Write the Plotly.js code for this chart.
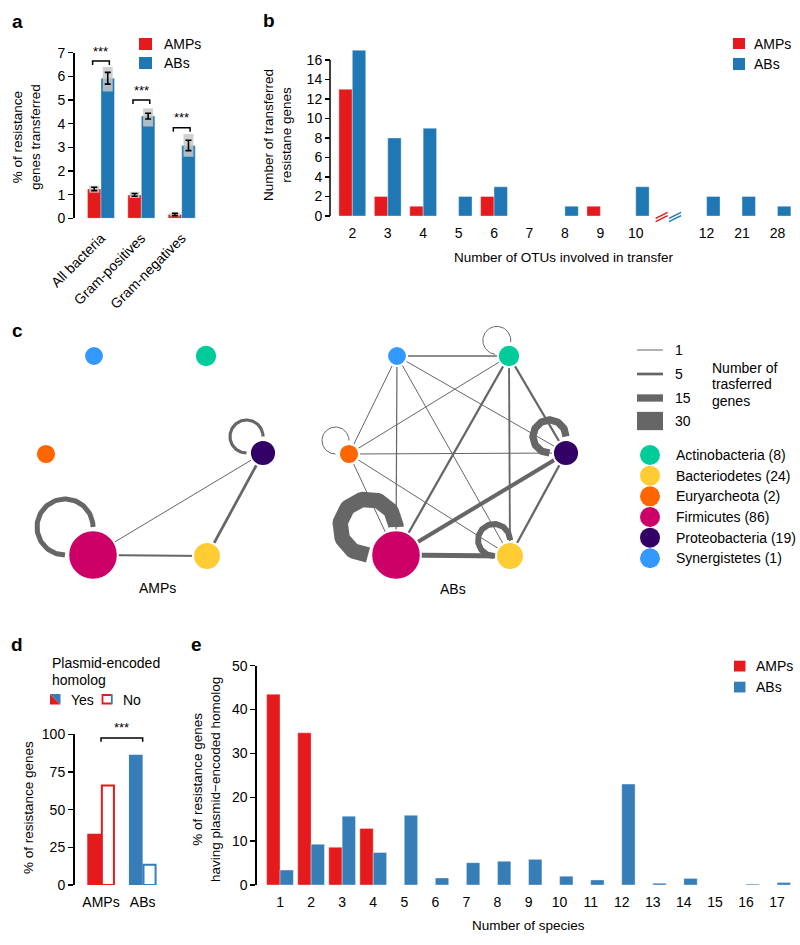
<!DOCTYPE html>
<html><head><meta charset="utf-8">
<script src="https://cdn.plot.ly/plotly-3.0.1.min.js"></script>
<style>html,body{margin:0;padding:0;background:#fff}#chart{width:800px;height:945px}</style>
</head><body><div id="chart"></div>
<script>
// ================= DATA =================
// Panel a
const aCategories = ['All bacteria', 'Gram-positives', 'Gram-negatives'];
const aAMPs = [1.24, 0.99, 0.16];
const aABs = [5.92, 4.32, 3.08];
const aAMPsErr = [0.07, 0.06, 0.05];
const aABsErr = [0.25, 0.12, 0.22];
const aAMPsLow = [1.08, 0.86, 0.08];
const aAMPsHigh = [1.38, 1.12, 0.24];
const aABsLow = [5.36, 3.88, 2.6];
const aABsHigh = [6.4, 4.64, 3.56];
const aSigY = [6.65, 5.0, 3.83];
const aSigText = ['***', '***', '***'];

// Panel b
const bCategories = ['2', '3', '4', '5', '6', '7', '8', '9', '10', '', '12', '21', '28'];
const bAMPs = [13, 2, 1, 0, 2, 0, 0, 1, 0, null, 0, 0, 0];
const bABs = [17, 8, 9, 2, 3, 0, 1, 0, 3, null, 2, 2, 1];
const bBreakIndex = 9;

// Panel c
const phyla = ['Actinobacteria', 'Bacteriodetes', 'Euryarcheota', 'Firmicutes', 'Proteobacteria', 'Synergistetes'];
const phylaCounts = [8, 24, 2, 86, 19, 1];
// edges: [source, target, number of transferred genes]
const ampEdges = [[3, 1, 3.5], [3, 4, 1], [4, 1, 5]];
const ampLoops = [[3, 10], [4, 6]];
const abEdges = [[5, 0, 2], [5, 2, 1], [5, 3, 1.5], [5, 1, 1], [5, 4, 1], [0, 2, 1], [0, 3, 4], [0, 1, 3],
                 [0, 4, 4], [2, 4, 1.5], [2, 3, 1], [2, 1, 1], [3, 4, 8], [3, 1, 10], [4, 1, 4]];
const abLoops = [[3, 26], [4, 15], [1, 12], [0, 1], [2, 1]];
const weightLegend = [1, 5, 15, 30];

// Panel d
const dGroups = ['AMPs', 'ABs'];
const dYes = [34, 86.5];
const dNo = [66, 13.5];
const dSigText = '***';

// Panel e
const eSpecies = [1, 2, 3, 4, 5, 6, 7, 8, 9, 10, 11, 12, 13, 14, 15, 16, 17];
const eAMPs = [43.5, 34.7, 8.6, 12.9, 0, 0, 0, 0, 0, 0, 0, 0, 0, 0, 0, 0, 0];
const eABs = [3.4, 9.3, 15.7, 7.4, 15.9, 1.6, 5.1, 5.4, 5.85, 2.0, 1.15, 23.0, 0.4, 1.5, 0, 0.2, 0.55];

// ================= STYLE / LAYOUT =================
const RED = '#E41A1C', BLUE = '#1F77B4', BLUE2 = '#377EB8', EDGE = '#666666';
const phylaColors = ['#00CC99', '#FFCC33', '#FF6600', '#CC0066', '#330066', '#3399FF'];
const FONT = 'Arial, "Liberation Sans", Helvetica, sans-serif';
const FS = 14, TS = 13.5;
// network node placement (pixels) and offsets of the two networks
const netPos = { x: [206, 207, 46, 93, 263, 94], y: [356, 556, 454, 555, 453, 356] };
const netOffsets = [0, 303];
const loopR = [14, 16, 13.5, 28, 16.5, 14];
const loopDir = [232, 225, 225, 225, 225, 225];
const legendPx = [1, 2.7, 7.3, 18.3];

const P = x => x / 800, Q = y => 1 - y / 945;
const traces = [], shapes = [], annotations = [];
function ann(text, x, y, size, xanchor, extra) {
  annotations.push(Object.assign({
    text, x: P(x), y: Q(y), xref: 'paper', yref: 'paper', showarrow: false,
    xanchor: xanchor || 'center', yanchor: 'middle',
    font: { family: FONT, size: size || FS, color: '#000' }
  }, extra || {}));
}
function rect(x0, y0, x1, y1, fill, line) {
  shapes.push({ type: 'rect', xref: 'paper', yref: 'paper', x0: P(x0), x1: P(x1), y0: Q(y1), y1: Q(y0),
    fillcolor: fill, line: line || { width: 0 } });
}
function widthOf(w) {
  for (let i = 0; i < weightLegend.length - 1; i++) {
    if (w <= weightLegend[i + 1]) {
      const t = (w - weightLegend[i]) / (weightLegend[i + 1] - weightLegend[i]);
      return legendPx[i] + Math.max(0, t) * (legendPx[i + 1] - legendPx[i]);
    }
  }
  return legendPx[legendPx.length - 1];
}
const tickFont = { family: FONT, size: FS, color: '#000' };
const yBase = { showgrid: false, zeroline: false, showline: true, linecolor: '#000', linewidth: 1.5,
  ticks: 'outside', ticklen: 5, tickwidth: 1.5, tickcolor: '#000', tickfont: tickFont, fixedrange: true, anchor: 'free' };
const xBase = { showgrid: false, zeroline: false, showline: false, ticks: '', tickfont: tickFont, fixedrange: true, ticklabelstandoff: 7 };
const barLine = { color: 'rgba(255,255,255,0.45)', width: 0.8 };

// ================= PANEL a =================
const aX = aCategories.map((_, i) => i);
const wA = 0.335;
traces.push({ type: 'bar', x: aX, y: aAMPs, offset: -wA, width: wA, marker: { color: RED, line: barLine }, xaxis: 'x', yaxis: 'y' });
traces.push({ type: 'bar', x: aX, y: aABs, offset: 0, width: wA, marker: { color: BLUE, line: barLine }, xaxis: 'x', yaxis: 'y' });
const cloud = (xs, v, lo, hi) => ({ type: 'scatter', mode: 'markers', x: xs, y: v, xaxis: 'x', yaxis: 'y',
  marker: { size: 1, color: 'rgba(0,0,0,0)' },
  error_y: { type: 'data', symmetric: false, array: hi.map((h, i) => h - v[i]), arrayminus: v.map((m, i) => m - lo[i]),
    color: 'rgba(200,200,200,0.85)', thickness: 10, width: 0 } });
traces.push(cloud(aX.map(i => i - wA / 2), aAMPs, aAMPsLow, aAMPsHigh));
traces.push(cloud(aX.map(i => i + wA / 2), aABs, aABsLow, aABsHigh));
const errT = (xs, v, e) => ({ type: 'scatter', mode: 'markers', x: xs, y: v, xaxis: 'x', yaxis: 'y',
  marker: { size: 1, color: 'rgba(0,0,0,0)' },
  error_y: { type: 'data', array: e, color: '#000', thickness: 1.6, width: 3 } });
traces.push(errT(aX.map(i => i - wA / 2), aAMPs, aAMPsErr));
traces.push(errT(aX.map(i => i + wA / 2), aABs, aABsErr));
aX.forEach(i => {
  const x0 = i - wA / 2 - 0.04, x1 = i + wA / 2 + 0.04, y = aSigY[i];
  shapes.push({ type: 'path', xref: 'x', yref: 'y', path: `M ${x0},${y - 0.17} L ${x0},${y} L ${x1},${y} L ${x1},${y - 0.17}`,
    line: { color: '#000', width: 1.5 } });
  annotations.push({ text: aSigText[i], x: i, y: y + 0.02, xref: 'x', yref: 'y', showarrow: false, yanchor: 'bottom',
    font: { family: FONT, size: 13, color: '#000' } });
});
rect(139, 38, 152, 50, RED); ann('AMPs', 162, 44, FS, 'left');
rect(139, 57, 152, 69, BLUE); ann('ABs', 162, 63, FS, 'left');
ann('% of resistance<br>genes transferred', 26, 137, TS, 'center', { textangle: -90 });
ann('<b>a</b>', 17, 21, 19);

// ================= PANEL b =================
const bX = bCategories.map((_, i) => i);
const wB = 0.378;
traces.push({ type: 'bar', x: bX, y: bAMPs.map(v => v || null), offset: -wB, width: wB, marker: { color: RED, line: barLine }, xaxis: 'x2', yaxis: 'y2' });
traces.push({ type: 'bar', x: bX, y: bABs.map(v => v || null), offset: 0, width: wB, marker: { color: BLUE, line: barLine }, xaxis: 'x2', yaxis: 'y2' });
shapes.push({ type: 'line', xref: 'paper', yref: 'y2', x0: P(330), x1: P(330), y0: 0, y1: 16, line: { color: '#000', width: 1.5 } });
[[-wB / 2 - 0.08, RED], [wB / 2 - 0.08, BLUE]].forEach(([dx, c]) => {
  [-1.6, 1.6].forEach(dy => {
    shapes.push({ type: 'line', xref: 'x2', yref: 'paper', x0: bBreakIndex + dx - 0.17, x1: bBreakIndex + dx + 0.17,
      y0: Q(220 + dy), y1: Q(214 + dy), line: { color: c, width: 1.6 } });
  });
});
rect(733, 38, 745, 49, RED); ann('AMPs', 752, 43.5, FS, 'left');
rect(733, 58, 745, 70, BLUE); ann('ABs', 752, 64, FS, 'left');
ann('Number of transferred<br>resistane genes', 278, 135, TS, 'center', { textangle: -90 });
ann('Number of OTUs involved in transfer', 564, 257, TS);
ann('<b>b</b>', 269, 20, 19);

// ================= PANEL c =================
[[ampEdges, ampLoops], [abEdges, abLoops]].forEach(([edges, loops], n) => {
  const off = netOffsets[n];
  const X = netPos.x.map(v => v + off), Y = netPos.y;
  edges.slice().sort((a, b) => a[2] - b[2]).forEach(([s, t, w]) => {
    traces.push({ type: 'scatter', mode: 'lines', x: [X[s], X[t]], y: [Y[s], Y[t]], xaxis: 'x3', yaxis: 'y3',
      line: { color: EDGE, width: widthOf(w) }, hoverinfo: 'skip' });
  });
  loops.forEach(([s, w]) => {
    const R = loopR[s], u = loopDir[s] * Math.PI / 180;
    const cx = X[s] + R * Math.SQRT2 * Math.cos(u), cy = Y[s] + R * Math.SQRT2 * Math.sin(u);
    const back = u + Math.PI, xs = [], ys = [];
    for (let k = 0; k <= 80; k++) {
      const a = back + Math.PI / 4 + k / 80 * 1.5 * Math.PI;
      xs.push(cx + R * Math.cos(a)); ys.push(cy + R * Math.sin(a));
    }
    traces.push({ type: 'scatter', mode: 'lines', x: xs, y: ys, xaxis: 'x3', yaxis: 'y3',
      line: { color: EDGE, width: widthOf(w) }, hoverinfo: 'skip' });
  });
  traces.push({ type: 'scatter', mode: 'markers', x: X, y: Y, xaxis: 'x3', yaxis: 'y3',
    marker: { size: phylaCounts.map(c => 19.5 + 0.35 * c), color: phylaColors, line: { color: '#fff', width: 2 }, opacity: 1 },
    hoverinfo: 'skip' });
});
ann('AMPs', 157, 588, FS);
ann('ABs', 453, 589, FS);
const legY = [350, 374, 398, 421];
weightLegend.forEach((w, i) => {
  shapes.push({ type: 'line', xref: 'paper', yref: 'paper', x0: P(637), x1: P(663), y0: Q(legY[i]), y1: Q(legY[i]),
    line: { color: EDGE, width: widthOf(w) } });
  ann(String(w), 673, legY[i], FS, 'left');
});
ann('Number of', 710, 368, FS, 'left');
ann('trasferred', 710, 384.5, FS, 'left');
ann('genes', 710, 401, FS, 'left');
phyla.forEach((p, i) => {
  const y = 455 + i * 20.66;
  shapes.push({ type: 'circle', xref: 'paper', yref: 'paper', x0: P(640), x1: P(660), y0: Q(y + 10), y1: Q(y - 10),
    fillcolor: phylaColors[i], line: { width: 0 } });
  ann(`${p} (${phylaCounts[i]})`, 674, y, FS, 'left');
});
ann('<b>c</b>', 17, 330, 19);

// ================= PANEL d =================
const dX = dGroups.map((_, i) => i);
const wD = 0.33;
traces.push({ type: 'bar', x: dX, y: dYes, offset: -wD, width: wD, marker: { color: [RED, BLUE2], line: { width: 0 } }, xaxis: 'x4', yaxis: 'y4' });
traces.push({ type: 'bar', x: dX, y: dNo, offset: 0.02, width: wD - 0.04, marker: { color: '#fff', line: { color: [RED, BLUE2], width: 2 } }, xaxis: 'x4', yaxis: 'y4' });
shapes.push({ type: 'path', xref: 'x4', yref: 'y4', path: `M ${dX[0]},95 L ${dX[0]},97.5 L ${dX[1]},97.5 L ${dX[1]},95`,
  line: { color: '#000', width: 1.5 } });
annotations.push({ text: dSigText, x: (dX[0] + dX[1]) / 2, y: 98, xref: 'x4', yref: 'y4', showarrow: false, yanchor: 'bottom',
  font: { family: FONT, size: 13, color: '#000' } });
ann('Plasmid-encoded', 50, 663, FS, 'left');
ann('homolog', 50, 680, FS, 'left');
shapes.push({ type: 'path', xref: 'paper', yref: 'paper', path: `M ${P(50)},${Q(694)} L ${P(50)},${Q(704.5)} L ${P(60.5)},${Q(704.5)} Z`, fillcolor: RED, line: { width: 0 } });
shapes.push({ type: 'path', xref: 'paper', yref: 'paper', path: `M ${P(50)},${Q(694)} L ${P(60.5)},${Q(694)} L ${P(60.5)},${Q(704.5)} Z`, fillcolor: BLUE2, line: { width: 0 } });
ann('Yes', 69, 699.5, FS, 'left');
shapes.push({ type: 'path', xref: 'paper', yref: 'paper', path: `M ${P(111.5)},${Q(695)} L ${P(102.5)},${Q(695)} L ${P(102.5)},${Q(703.5)} L ${P(111.5)},${Q(703.5)}`, line: { color: RED, width: 1.8 } });
shapes.push({ type: 'line', xref: 'paper', yref: 'paper', x0: P(111.8), x1: P(111.8), y0: Q(694.2), y1: Q(704.3), line: { color: BLUE2, width: 1.8 } });
ann('No', 121, 699.5, FS, 'left');
ann('% of resistance genes', 28, 808, TS, 'center', { textangle: -90 });
ann('<b>d</b>', 17, 644, 19);

// ================= PANEL e =================
const wE = 0.43;
traces.push({ type: 'bar', x: eSpecies, y: eAMPs.map(v => v || null), offset: -wE, width: wE, marker: { color: RED, line: barLine }, xaxis: 'x5', yaxis: 'y5' });
traces.push({ type: 'bar', x: eSpecies, y: eABs.map(v => v || null), offset: 0, width: wE, marker: { color: BLUE2, line: barLine }, xaxis: 'x5', yaxis: 'y5' });
rect(734, 660.7, 745.5, 671.5, RED); ann('AMPs', 754, 666, FS, 'left');
rect(734, 681.7, 745.5, 692.5, BLUE2); ann('ABs', 754, 687, FS, 'left');
ann('% of resistance genes<br>having plasmid\u2212encoded homolog', 206, 780, TS, 'center', { textangle: -90 });
ann('Number of species', 528.6, 925.7, TS);
ann('<b>e</b>', 196, 644, 19);

// ================= LAYOUT =================
const layout = {
  width: 800, height: 945, margin: { l: 0, r: 0, t: 0, b: 0 }, showlegend: false,
  paper_bgcolor: '#fff', plot_bgcolor: 'rgba(0,0,0,0)', barmode: 'overlay',
  font: { family: FONT, size: FS, color: '#000' },
  xaxis: Object.assign({}, xBase, { domain: [P(80.8), P(201.9)], range: [-0.5, 2.5], tickvals: aX, ticktext: aCategories, tickangle: -45, ticklabelstandoff: 8, anchor: 'y' }),
  yaxis: Object.assign({}, yBase, { domain: [Q(218.3), Q(52.7)], range: [0, 7], tickvals: [0, 1, 2, 3, 4, 5, 6, 7], position: P(73) }),
  xaxis2: Object.assign({}, xBase, { domain: [P(334.6), P(795.2)], range: [-0.5, 12.5], tickvals: bX, ticktext: bCategories, tickangle: 0, anchor: 'y2' }),
  yaxis2: Object.assign({}, yBase, { domain: [Q(216), Q(45.4)], range: [0, 17.5], tickvals: [0, 2, 4, 6, 8, 10, 12, 14, 16], showline: false, position: P(330) }),
  xaxis3: { domain: [0, 1], range: [0, 800], visible: false, fixedrange: true, anchor: 'y3' },
  yaxis3: { domain: [Q(640), Q(300)], range: [640, 300], visible: false, fixedrange: true, anchor: 'x3' },
  xaxis4: Object.assign({}, xBase, { domain: [P(80.2), P(163.5)], range: [-0.5, 1.5], tickvals: dX, ticktext: dGroups, tickangle: 0, anchor: 'y4' }),
  yaxis4: Object.assign({}, yBase, { domain: [Q(885), Q(734.3)], range: [0, 100], tickvals: [0, 25, 50, 75, 100], position: P(73) }),
  xaxis5: Object.assign({}, xBase, { domain: [P(264.5), P(792.6)], range: [0.5, 17.5], tickvals: eSpecies, tickangle: 0, anchor: 'y5' }),
  yaxis5: Object.assign({}, yBase, { domain: [Q(885), Q(665.7)], range: [0, 50], tickvals: [0, 10, 20, 30, 40, 50], position: P(255.3) }),
  shapes, annotations
};
Plotly.newPlot('chart', traces, layout, { displayModeBar: false, staticPlot: true });
</script>
</body></html>
